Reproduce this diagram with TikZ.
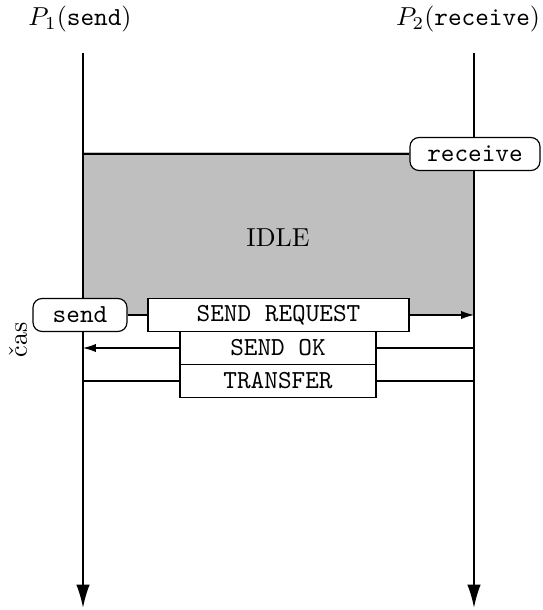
\documentclass[tikz,border=0pt]{standalone}
\usetikzlibrary{arrows.meta}
\begin{document}
\begin{tikzpicture}[x=0.385pt,y=-0.385pt,
  lbl/.style={inner sep=0pt},
  roundbox/.style={draw,fill=white,rounded corners=3.5pt,line width=0.45pt,font=\ttfamily,minimum height=33*0.385pt,inner sep=0pt},
  msgbox/.style={draw,fill=white,line width=0.45pt,font=\ttfamily,minimum height=33*0.385pt,inner sep=0pt},
  tline/.style={line width=0.75pt,-{Latex[length=9pt,width=5.2pt]}},
  msg/.style={line width=0.45pt},
  msgarrow/.style={line width=0.45pt,-{Latex[length=5pt,width=3.2pt]}}]
\useasboundingbox (0,0) rectangle (543,610);
% gray area
\fill[gray!50] (83,152) rectangle (474,315);
% labels
\node[lbl] (p1) at (80,19) {$P_1$(\texttt{send})};
\node[lbl] (p2) at (468,19) {$P_2$(\texttt{receive})};
% timelines
\coordinate (l0) at (83,53);
\coordinate (l1) at (83,608);
\coordinate (r0) at (474,53);
\coordinate (r1) at (474,608);
\draw[tline] (l0) -- (l1);
\draw[tline] (r0) -- (r1);
% IDLE
\node (idle) at (278,238) {IDLE};
% receive
\node[roundbox,minimum width=130*0.385pt] (recv) at (475,154) {receive};
\draw[msg] (recv.west) -- (recv.west -| l0);
% send request
\node[roundbox,minimum width=94*0.385pt] (send) at (80,315) {send};
\node[msgbox,minimum width=261*0.385pt] (sreq) at (278.5,315) {SEND REQUEST};
\draw[msg] (send.east) -- (sreq.west);
\draw[msgarrow] (sreq.east) -- (sreq.east -| r0);
% send ok
\node[msgbox,minimum width=196*0.385pt] (sok) at (278,348) {SEND OK};
\draw[msg] (sok.east -| r0) -- (sok.east);
\draw[msgarrow] (sok.west) -- (sok.west -| l0);
% transfer
\node[msgbox,minimum width=196*0.385pt] (tr) at (278,381) {TRANSFER};
\draw[msg] (tr.west -| l0) -- (tr.west);
\draw[msg] (tr.east) -- (tr.east -| r0);
% cas
\node[rotate=90] (cas) at (18,340) {čas};
\end{tikzpicture}
\end{document}
